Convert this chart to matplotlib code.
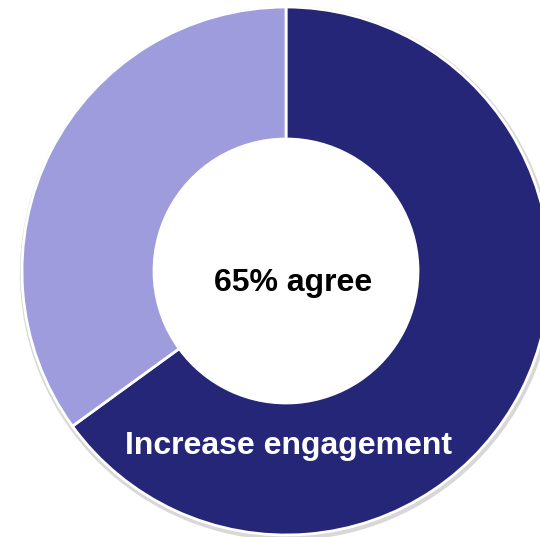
import matplotlib
matplotlib.use("Agg")
import matplotlib.pyplot as plt

categories = ["Increase engagement", "Other"]
values = [65, 35]
colors = ["#262678", "#9e9cdc"]

plt.rcParams['font.family'] = ['Liberation Sans', 'DejaVu Sans']

fig = plt.figure(figsize=(5.4, 5.37), dpi=100)
ax = fig.add_axes([0, 0, 1, 1])

# faint shadow
ax.pie([1], radius=1.012, colors=["#d8d8d8"], center=(0.004, -0.008),
       wedgeprops=dict(width=0.42, linewidth=0), frame=True)
ax.pie(values, colors=colors, startangle=90, counterclock=False,
       wedgeprops=dict(width=0.5, edgecolor="white", linewidth=2), frame=True)
ax.set_xlim(-286 / 264, (540 - 286) / 264)
ax.set_ylim(-(537 - 271) / 264, 271 / 264)
ax.axis("off")

ax.text(0.027, -0.045, f"{values[0]}% agree", ha="center", va="center",
        fontsize=23, fontweight="bold", color="black")
ax.text(0.011, -0.663, categories[0], ha="center", va="center",
        fontsize=23, fontweight="bold", color="white")

fig.savefig("out.png", dpi=100)
